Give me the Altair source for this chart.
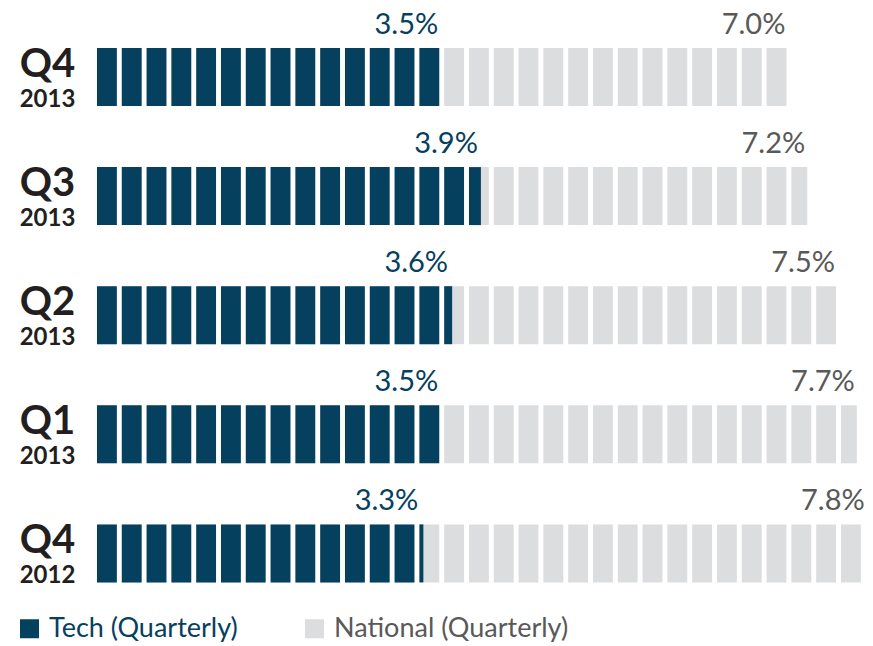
import math
import altair as alt
import pandas as pd

# ---- data ----
quarters = ["Q4", "Q3", "Q2", "Q1", "Q4"]
years = ["2013", "2013", "2013", "2013", "2012"]
tech = [3.5, 3.9, 3.6, 3.5, 3.3]
national = [7.0, 7.2, 7.5, 7.7, 7.8]
series_names = ["Tech (Quarterly)", "National (Quarterly)"]

BLUE = "#05405f"
GREY = "#dcdddf"
GREY_TXT = "#595959"
DARK = "#231f20"

BLOCK = 0.25      # one block = 0.25 percentage point
FILL = 0.8        # share of a block that is filled (rest is gap)
HALF = 0.2435     # half bar height in row units

PX_PER_PCT = 99.2
W = 768
H = 630
ROW_PX = 119.1
TOP_PX = 69


def blocks(values, name):
    out = []
    for r, v in enumerate(values):
        n = v / BLOCK
        for i in range(math.ceil(n - 1e-9)):
            f = min(1.0, n - i)
            out.append(dict(row=r, x0=i * BLOCK, x1=i * BLOCK + FILL * BLOCK * f,
                            y0=r - HALF, y1=r + HALF, series=name))
    return pd.DataFrame(out)


nat_df = blocks(national, series_names[1])
tech_df = blocks(tech, series_names[0])
lab_df = pd.DataFrame(dict(
    row=list(range(len(quarters))), quarter=quarters, year=years,
    tech=tech, national=national,
    tech_label=[f"{v:.1f}%" for v in tech],
    national_label=[f"{v:.1f}%" for v in national],
))

xscale = alt.Scale(domain=[0, W / PX_PER_PCT], nice=False, zero=False)
yscale = alt.Scale(domain=[-TOP_PX / ROW_PX, (H - TOP_PX) / ROW_PX], reverse=True, nice=False, zero=False)
cscale = alt.Scale(domain=series_names, range=[BLUE, GREY])

legend = alt.Legend(
    orient="none", legendX=-81, legendY=607, direction="horizontal", title=None,
    symbolType="square", symbolSize=361, symbolStrokeWidth=0, symbolOpacity=1,
    labelFont="Lato", labelFontSize=27, labelOffset=6, columnPadding=63, labelLimit=500,
    labelColor=alt.ExprRef(expr=f"datum.value === '{series_names[0]}' ? '{BLUE}' : '{GREY_TXT}'"),
)

grey_bars = alt.Chart(nat_df).mark_rect(clip=True).encode(
    x=alt.X("x0:Q", scale=xscale, axis=None),
    x2="x1:Q",
    y=alt.Y("y0:Q", scale=yscale, axis=None),
    y2="y1:Q",
    color=alt.Color("series:N", scale=cscale, legend=legend),
)
tech_bars = alt.Chart(tech_df).mark_rect(clip=True).encode(
    x=alt.X("x0:Q", scale=xscale, axis=None),
    x2="x1:Q",
    y=alt.Y("y0:Q", scale=yscale, axis=None),
    y2="y1:Q",
    color=alt.Color("series:N", scale=cscale, legend=legend),
)

base = alt.Chart(lab_df)
tech_txt = base.mark_text(align="right", baseline="alphabetic", dx=-6, dy=-43,
                          font="Lato", fontSize=29, color=BLUE).encode(
    x=alt.X("tech:Q", scale=xscale), y=alt.Y("row:Q", scale=yscale), text="tech_label:N")
nat_txt = base.mark_text(align="right", baseline="alphabetic", dx=-6, dy=-43,
                         font="Lato", fontSize=29, color=GREY_TXT).encode(
    x=alt.X("national:Q", scale=xscale), y=alt.Y("row:Q", scale=yscale), text="national_label:N")
q_txt = base.mark_text(align="center", baseline="alphabetic", dx=-49.5, dy=0,
                       font="Lato", fontWeight="bold", fontSize=40, color=DARK).encode(
    x=alt.datum(0, scale=xscale), y=alt.Y("row:Q", scale=yscale), text="quarter:N")
y_txt = base.mark_text(align="center", baseline="alphabetic", dx=-49.5, dy=30,
                       font="Lato", fontWeight="bold", fontSize=24, color=DARK).encode(
    x=alt.datum(0, scale=xscale), y=alt.Y("row:Q", scale=yscale), text="year:N")

chart = alt.layer(grey_bars, tech_bars, tech_txt, nat_txt, q_txt, y_txt).properties(
    width=W, height=H,
    autosize=alt.AutoSizeParams(type="none"),
    padding={"left": 89, "top": 0, "right": 0, "bottom": 7},
).configure_view(stroke=None)

chart.save("out.html", embed_options={"renderer": "svg", "actions": False})
